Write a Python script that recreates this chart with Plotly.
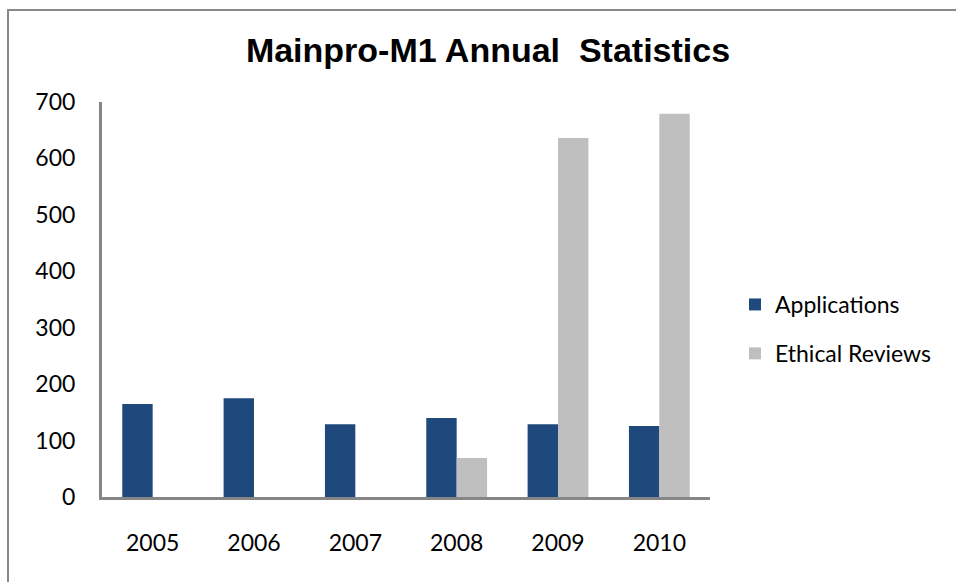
import plotly.graph_objects as go

years = ["2005", "2006", "2007", "2008", "2009", "2010"]
applications = [165, 175, 129, 140, 129, 126]
ethical_reviews = [0, 0, 0, 69, 636, 679]
y_ticks = [0, 100, 200, 300, 400, 500, 600, 700]

W, H = 956, 582
L, R, T, B = 102, 246, 102, 85
pw, ph = W - L - R, H - T - B

def px_x(p):
    return (p - L) / pw

def px_y(p):
    return (H - B - p) / ph

fig = go.Figure()
fig.add_trace(go.Bar(x=years, y=applications, name="Applications",
                     marker=dict(color="#1F497D", line=dict(width=0)),
                     legendgroup="a"))
fig.add_trace(go.Bar(x=years, y=ethical_reviews, name="Ethical Reviews",
                     marker=dict(color="#BFBFBF", line=dict(width=0)),
                     legendgroup="b"))

fig.update_layout(
    width=W, height=H,
    margin=dict(l=L, r=R, t=T, b=B),
    paper_bgcolor="white", plot_bgcolor="white",
    barmode="group", bargap=0.4, bargroupgap=0,
    title=dict(text="Mainpro-M1 Annual  Statistics",
               font=dict(family="Liberation Sans", size=34, color="black", weight="bold"),
               x=488 / W, xanchor="center", y=1 - 50 / H, yanchor="middle"),
    font=dict(family="Lato", size=23, color="black"),
    showlegend=True,
    legend=dict(x=px_x(735), xanchor="left", y=px_y(329), yanchor="middle",
                traceorder="grouped", tracegroupgap=16,
                font=dict(family="Lato", size=23, color="black"),
                bgcolor="rgba(0,0,0,0)"),
    xaxis=dict(showline=True, linecolor="#868686", linewidth=3,
               ticks="", showgrid=False, ticklabelstandoff=23,
               tickfont=dict(family="Lato", size=23)),
    yaxis=dict(range=[0, 700], tickvals=y_ticks, showline=True,
               linecolor="#868686", linewidth=3, ticks="", showgrid=False,
               zeroline=False, ticklabelstandoff=19,
               tickfont=dict(family="Lato", size=23)),
)

# outer chart border (frame)
fig.add_shape(type="rect", xref="paper", yref="paper",
              x0=px_x(8), x1=px_x(970), y0=px_y(600), y1=px_y(10),
              line=dict(color="#888888", width=2), fillcolor="rgba(0,0,0,0)",
              layer="below")

fig.write_html("out.html", config={"displayModeBar": False},
               post_script="document.body.style.margin='0';document.body.style.overflow='hidden';")
